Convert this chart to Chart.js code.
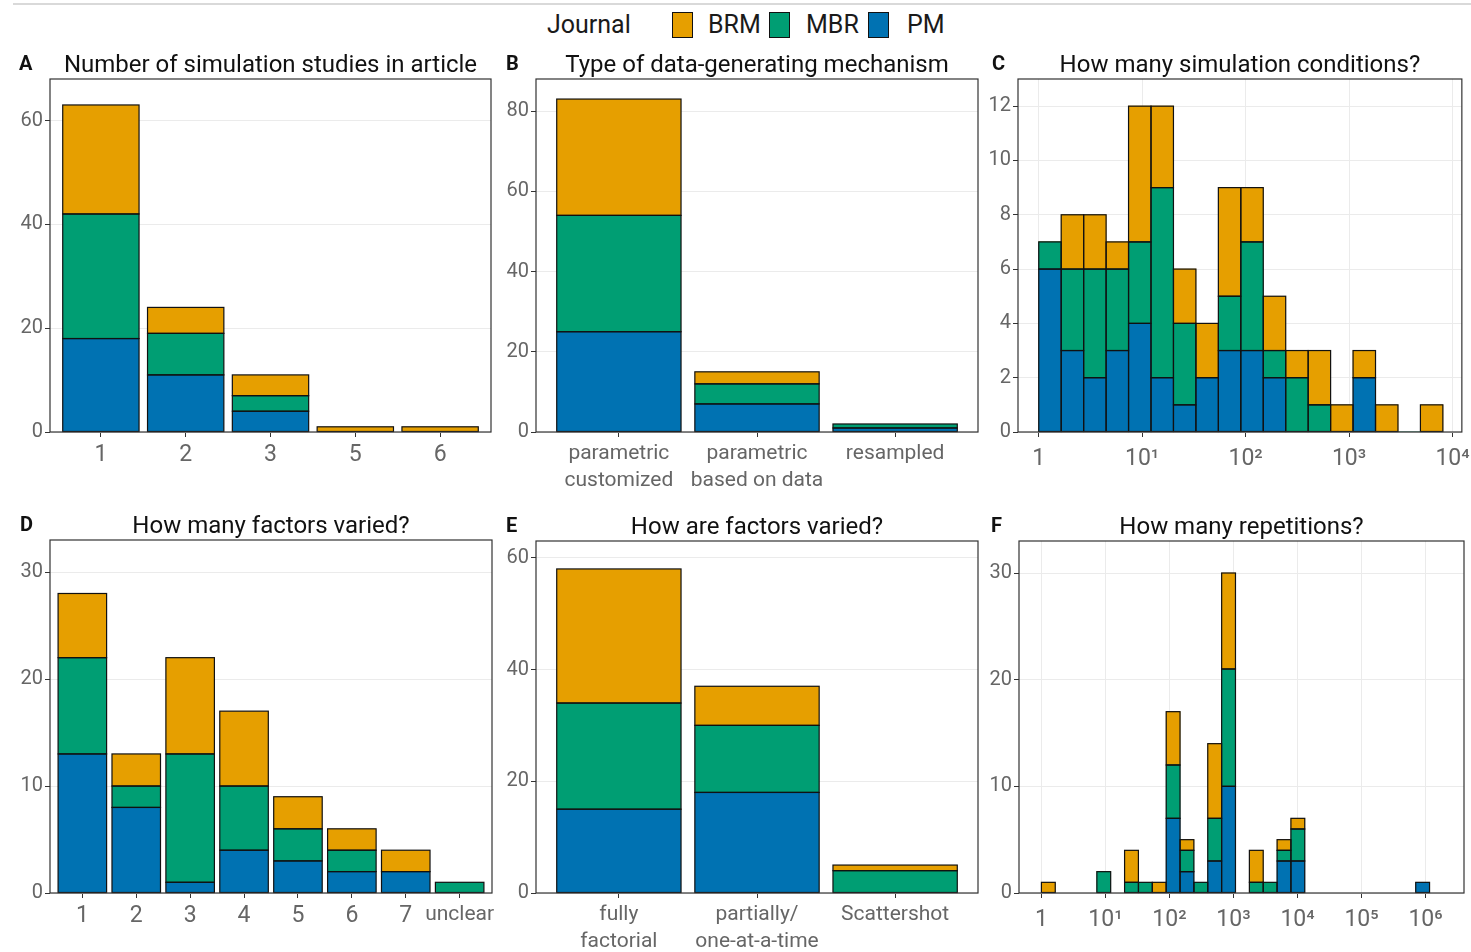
<!DOCTYPE html>
<html>
<head>
<meta charset="utf-8">
<script src="https://cdn.jsdelivr.net/npm/chart.js@4.4.1/dist/chart.umd.min.js"></script>
<style>
    body { margin: 0; background: #ffffff; }
    #page { position: relative; width: 1471px; height: 952px; overflow: hidden; font-family: Roboto, "Liberation Sans", sans-serif; }
    #page canvas { position: absolute; }
    .top-rule { position: absolute; left: 13px; top: 3px; width: 1458px; height: 2px; background: #d9d9d9; }
    .legend-text { position: absolute; top: 0; line-height: 50px; font-size: 25px; color: #1a1a1a; white-space: nowrap; }
    .legend-key { position: absolute; top: 12px; width: 19px; height: 24px; border: 1px solid #111; }
</style>
</head>
<body>
<div id="page">
    <div class="top-rule"></div>
    <div class="legend-text" style="left:547px">Journal</div>
    <div class="legend-key" style="left:672px;background:#E69F00"></div>
    <div class="legend-text" style="left:708px">BRM</div>
    <div class="legend-key" style="left:769px;background:#009E73"></div>
    <div class="legend-text" style="left:806px">MBR</div>
    <div class="legend-key" style="left:868px;background:#0072B2"></div>
    <div class="legend-text" style="left:907px">PM</div>

    <canvas id="panel-a" width="500" height="454" style="left:0px;top:40px"></canvas>
    <canvas id="panel-b" width="500" height="454" style="left:486px;top:40px"></canvas>
    <canvas id="panel-c" width="510" height="454" style="left:968px;top:40px"></canvas>
    <canvas id="panel-d" width="500" height="452" style="left:0px;top:500px"></canvas>
    <canvas id="panel-e" width="500" height="452" style="left:486px;top:500px"></canvas>
    <canvas id="panel-f" width="510" height="452" style="left:969px;top:500px"></canvas>
</div>

<script>
// ---- data ----

// A: number of simulation studies in article
const studiesLabels = ['1', '2', '3', '5', '6'];
const studiesPM = [18, 11, 4, 0, 0];
const studiesMBR = [24, 8, 3, 0, 0];
const studiesBRM = [21, 5, 4, 1, 1];

// B: type of data-generating mechanism
const dgmLabels = [['parametric', 'customized'], ['parametric', 'based on data'], ['resampled']];
const dgmPM = [25, 7, 1];
const dgmMBR = [29, 5, 1];
const dgmBRM = [29, 3, 0];

// C: how many simulation conditions (bin centres in log10 units)
const conditionBins = [0.109, 0.326, 0.543, 0.760, 0.977, 1.194, 1.411, 1.628, 1.845, 2.062, 2.279, 2.496, 2.713, 2.930, 3.147, 3.364, 3.581, 3.798];
const conditionPM = [6, 3, 2, 3, 4, 2, 1, 2, 3, 3, 2, 0, 0, 0, 2, 0, 0, 0];
const conditionMBR = [1, 3, 4, 3, 3, 7, 3, 0, 2, 4, 1, 2, 1, 0, 0, 0, 0, 0];
const conditionBRM = [0, 2, 2, 1, 5, 3, 2, 2, 4, 2, 2, 1, 2, 1, 1, 1, 0, 1];
const conditionDecades = [0, 1, 2, 3, 4];

// D: how many factors varied
const factorsLabels = ['1', '2', '3', '4', '5', '6', '7', 'unclear'];
const factorsPM = [13, 8, 1, 4, 3, 2, 2, 0];
const factorsMBR = [9, 2, 12, 6, 3, 2, 0, 1];
const factorsBRM = [6, 3, 9, 7, 3, 2, 2, 0];

// E: how are factors varied
const variedLabels = [['fully', 'factorial'], ['partially/', 'one-at-a-time'], ['Scattershot']];
const variedPM = [15, 18, 0];
const variedMBR = [19, 12, 4];
const variedBRM = [24, 7, 1];

// F: how many repetitions (non-empty bin centres in log10 units)
const repetitionBins = [0.108, 0.974, 1.407, 1.624, 1.840, 2.057, 2.273, 2.490, 2.706, 2.923, 3.356, 3.572, 3.789, 4.005, 5.954];
const repetitionPM = [0, 0, 0, 0, 0, 7, 2, 0, 3, 10, 0, 0, 3, 3, 1];
const repetitionMBR = [0, 2, 1, 1, 0, 5, 2, 1, 4, 11, 1, 1, 1, 3, 0];
const repetitionBRM = [1, 0, 3, 0, 1, 5, 1, 0, 7, 9, 3, 0, 1, 1, 0];
const repetitionDecades = [0, 1, 2, 3, 4, 5, 6];

// ---- styling ----

const FONT = 'Roboto, "Liberation Sans", sans-serif';
const TICK_COLOR = '#666666';
const GRID_COLOR = '#ebebeb';
const colors = { PM: '#0072B2', MBR: '#009E73', BRM: '#E69F00' };
const SUPERSCRIPTS = ['⁰', '¹', '²', '³', '⁴', '⁵', '⁶'];

// ggplot-like outlines: stroke centred on every bar edge
const barOutlines = {
    id: 'barOutlines',
    afterDatasetsDraw(chart) {
        const ctx = chart.ctx;
        ctx.save();
        ctx.lineWidth = 1.2;
        ctx.strokeStyle = '#111111';
        chart.data.datasets.forEach((ds, i) => {
            chart.getDatasetMeta(i).data.forEach(bar => {
                const {x, y, base, width} = bar.getProps(['x', 'y', 'base', 'width'], true);
                if (Math.abs(base - y) < 0.5) return;
                ctx.strokeRect(x - width / 2, Math.min(y, base), width, Math.abs(base - y));
            });
        });
        ctx.restore();
    }
};

const panelFrame = {
    id: 'panelFrame',
    afterDatasetsDraw(chart) {
        const {left, top, right, bottom} = chart.chartArea;
        const ctx = chart.ctx;
        ctx.save();
        ctx.lineWidth = 1.2;
        ctx.strokeStyle = '#333333';
        ctx.strokeRect(left, top, right - left, bottom - top);
        ctx.restore();
    }
};

function panelTitle(letter, text, letterX) {
    return {
        id: 'panelTitle',
        afterDraw(chart) {
            const ctx = chart.ctx;
            const area = chart.chartArea;
            ctx.save();
            ctx.fillStyle = '#111111';
            ctx.textBaseline = 'alphabetic';
            ctx.textAlign = 'left';
            ctx.font = 'bold 20px ' + FONT;
            ctx.fillText(letter, letterX, area.top - 9);
            ctx.font = '24px ' + FONT;
            ctx.textAlign = 'center';
            ctx.fillText(text, (area.left + area.right) / 2, area.top - 7);
            ctx.restore();
        }
    };
}

function stackedSets(pm, mbr, brm, xValues) {
    const toPoints = arr => arr.map((v, i) => ({x: xValues ? xValues[i] : i, y: v}));
    return [
        {label: 'PM', data: toPoints(pm), backgroundColor: colors.PM},
        {label: 'MBR', data: toPoints(mbr), backgroundColor: colors.MBR},
        {label: 'BRM', data: toPoints(brm), backgroundColor: colors.BRM}
    ];
}

// numbers on the x axes are set a little larger than the word labels
function xTickFont(labels) {
    return context => {
        const label = context.tick ? labels[context.tick.value] : '';
        const numeric = typeof label === 'string' && /^[0-9]+$/.test(label);
        return {family: FONT, size: numeric ? 23 : 21, lineHeight: 1.25};
    };
}

function categoryAxis(labels, axisHeight) {
    return {
        type: 'linear',
        stacked: true,
        min: -0.6,
        max: labels.length - 0.4,
        offset: false,
        afterBuildTicks: axis => { axis.ticks = labels.map((l, i) => ({value: i})); },
        afterFit: scale => { scale.height = axisHeight; },
        ticks: {
            callback: value => labels[value],
            autoSkip: false,
            maxRotation: 0,
            color: TICK_COLOR,
            padding: 4,
            font: xTickFont(labels)
        },
        grid: {display: true, drawOnChartArea: false, offset: false, tickLength: 5, tickColor: '#333333'},
        border: {display: false}
    };
}

function logAxis(decades, min, max, axisHeight) {
    return {
        type: 'linear',
        stacked: true,
        min: min,
        max: max,
        offset: false,
        afterBuildTicks: axis => { axis.ticks = decades.map(d => ({value: d})); },
        afterFit: scale => { scale.height = axisHeight; },
        ticks: {
            callback: value => value === 0 ? '1' : '10' + SUPERSCRIPTS[value],
            autoSkip: false,
            maxRotation: 0,
            color: TICK_COLOR,
            padding: 8,
            font: {family: FONT, size: 23}
        },
        grid: {color: GRID_COLOR, offset: false, tickLength: 5, tickColor: '#333333'},
        border: {display: false}
    };
}

function countAxis(max, step) {
    return {
        type: 'linear',
        stacked: true,
        min: 0,
        max: max,
        afterFit: scale => { scale.width = 50; },
        ticks: {
            stepSize: step,
            includeBounds: false,
            color: TICK_COLOR,
            padding: 2,
            font: {family: FONT, size: 20}
        },
        grid: {color: GRID_COLOR, tickLength: 5, tickColor: '#333333'},
        border: {display: false}
    };
}

function drawPanel(canvasId, datasets, xAxis, yAxis, title, padding, barWidth) {
    return new Chart(document.getElementById(canvasId), {
        type: 'bar',
        data: {datasets: datasets},
        options: {
            responsive: false,
            animation: false,
            devicePixelRatio: 1,
            layout: {padding: padding},
            datasets: {
                bar: {barPercentage: barWidth, categoryPercentage: 1, borderWidth: 0}
            },
            plugins: {
                legend: {display: false},
                tooltip: {enabled: false},
                title: {display: false}
            },
            scales: {x: xAxis, y: yAxis}
        },
        plugins: [barOutlines, panelFrame, title]
    });
}

const panelA = drawPanel('panel-a',
    stackedSets(studiesPM, studiesMBR, studiesBRM),
    categoryAxis(studiesLabels, 62), countAxis(68, 20),
    panelTitle('A', 'Number of simulation studies in article', 19),
    {top: 39, right: 9, left: 0, bottom: 0}, 0.9);

const panelB = drawPanel('panel-b',
    stackedSets(dgmPM, dgmMBR, dgmBRM),
    categoryAxis(dgmLabels, 62), countAxis(88, 20),
    panelTitle('B', 'Type of data-generating mechanism', 20),
    {top: 39, right: 8, left: 0, bottom: 0}, 0.9);

const panelC = drawPanel('panel-c',
    stackedSets(conditionPM, conditionMBR, conditionBRM, conditionBins),
    logAxis(conditionDecades, -0.2, 4.09, 62), countAxis(13, 2),
    panelTitle('C', 'How many simulation conditions?', 24),
    {top: 39, right: 15, left: 0, bottom: 0}, 1);

const panelD = drawPanel('panel-d',
    stackedSets(factorsPM, factorsMBR, factorsBRM),
    categoryAxis(factorsLabels, 59), countAxis(33, 10),
    panelTitle('D', 'How many factors varied?', 20),
    {top: 40, right: 8, left: 0, bottom: 0}, 0.9);

const panelE = drawPanel('panel-e',
    stackedSets(variedPM, variedMBR, variedBRM),
    categoryAxis(variedLabels, 59), countAxis(63, 20),
    panelTitle('E', 'How are factors varied?', 20),
    {top: 41, right: 8, left: 0, bottom: 0}, 0.9);

const panelF = drawPanel('panel-f',
    stackedSets(repetitionPM, repetitionMBR, repetitionBRM, repetitionBins),
    logAxis(repetitionDecades, -0.35, 6.6, 59), countAxis(33, 10),
    panelTitle('F', 'How many repetitions?', 22),
    {top: 41, right: 15, left: 0, bottom: 0}, 1);
</script>
</body>
</html>
